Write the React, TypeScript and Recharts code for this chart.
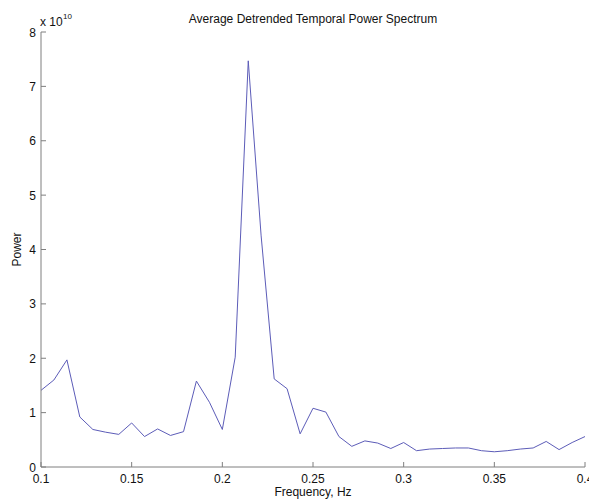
import React from "react";
import { LineChart, Line, XAxis, YAxis } from "recharts";

const frequencies = [
  0.1, 0.1071, 0.1143, 0.1214, 0.1286, 0.1357, 0.1429, 0.15, 0.1571, 0.1643,
  0.1714, 0.1786, 0.1857, 0.1929, 0.2, 0.2071, 0.2143, 0.2214, 0.2286, 0.2357,
  0.2429, 0.25, 0.2571, 0.2643, 0.2714, 0.2786, 0.2857, 0.2929, 0.3, 0.3071,
  0.3143, 0.3214, 0.3286, 0.3357, 0.3429, 0.35, 0.3571, 0.3643, 0.3714, 0.3786,
  0.3857, 0.3929, 0.4,
];

// power in units of 10^10
const power = [
  1.41, 1.6, 1.97, 0.92, 0.69, 0.64, 0.6, 0.81, 0.56, 0.7,
  0.58, 0.65, 1.58, 1.19, 0.69, 2.02, 7.47, 4.25, 1.62, 1.44,
  0.61, 1.08, 1.01, 0.56, 0.38, 0.48, 0.44, 0.34, 0.45, 0.3,
  0.33, 0.34, 0.35, 0.35, 0.3, 0.28, 0.3, 0.33, 0.35, 0.47,
  0.32, 0.45, 0.56,
];

const xTicks = [0.1, 0.15, 0.2, 0.25, 0.3, 0.35, 0.4];
const xTickLabels = ["0.1", "0.15", "0.2", "0.25", "0.3", "0.35", "0.4"];
const yTicks = [0, 1, 2, 3, 4, 5, 6, 7, 8];

const title = "Average Detrended Temporal Power Spectrum";
const xLabel = "Frequency, Hz";
const yLabel = "Power";

const data = frequencies.map((f, i) => ({ f, p: power[i] }));

const FONT = '"Liberation Sans", Arial, Helvetica, sans-serif';
const AXIS = "#7f7f7f";
const TEXT = "#111";
const LINE = "#5c5cb8";
const TL = 5;

const BottomTick = (props: any) => {
  const { x, y, payload } = props;
  const idx = xTicks.indexOf(payload.value);
  return (
    <g>
      <line x1={x} y1={y} x2={x} y2={y - TL} stroke={AXIS} strokeWidth={1} />
      <text x={x} y={y + 16} textAnchor="middle" fontSize={12} fontFamily={FONT} fill={TEXT}>
        {idx >= 0 ? xTickLabels[idx] : String(payload.value)}
      </text>
    </g>
  );
};

const TopTick = (props: any) => {
  const { x, y } = props;
  return <line x1={x} y1={y} x2={x} y2={y + TL} stroke={AXIS} strokeWidth={1} />;
};

const LeftTick = (props: any) => {
  const { x, y, payload } = props;
  return (
    <g>
      <line x1={x} y1={y} x2={x + TL} y2={y} stroke={AXIS} strokeWidth={1} />
      <text x={x - 5} y={y + 4.5} textAnchor="end" fontSize={12} fontFamily={FONT} fill={TEXT}>
        {String(payload.value)}
      </text>
    </g>
  );
};

const RightTick = (props: any) => {
  const { x, y } = props;
  return <line x1={x} y1={y} x2={x - TL} y2={y} stroke={AXIS} strokeWidth={1} />;
};

export default function App() {
  const W = 589;
  const H = 501;
  return (
    <div style={{ position: "absolute", left: 0, top: 0, width: W, height: H, background: "#fff" }}>
      <LineChart
        width={W}
        height={H}
        data={data}
        margin={{ top: 32, right: 4, bottom: 0, left: 0 }}
      >
        <XAxis
          xAxisId="b"
          dataKey="f"
          type="number"
          domain={[0.1, 0.4]}
          ticks={xTicks}
          interval={0}
          allowDataOverflow
          height={34}
          tickSize={0}
          tickMargin={0}
          tickLine={false}
          axisLine={{ stroke: AXIS }}
          tick={<BottomTick />}
        />
        <XAxis
          xAxisId="t"
          orientation="top"
          dataKey="f"
          type="number"
          domain={[0.1, 0.4]}
          ticks={xTicks}
          interval={0}
          allowDataOverflow
          height={0}
          tickSize={0}
          tickMargin={0}
          tickLine={false}
          axisLine={{ stroke: AXIS }}
          tick={<TopTick />}
        />
        <YAxis
          yAxisId="l"
          type="number"
          domain={[0, 8]}
          ticks={yTicks}
          interval={0}
          allowDataOverflow
          width={41}
          tickSize={0}
          tickMargin={0}
          tickLine={false}
          axisLine={{ stroke: AXIS }}
          tick={<LeftTick />}
        />
        <YAxis
          yAxisId="r"
          orientation="right"
          type="number"
          domain={[0, 8]}
          ticks={yTicks}
          interval={0}
          allowDataOverflow
          width={0}
          tickSize={0}
          tickMargin={0}
          tickLine={false}
          axisLine={{ stroke: AXIS }}
          tick={<RightTick />}
        />
        <Line
          xAxisId="b"
          yAxisId="l"
          type="linear"
          dataKey="p"
          stroke={LINE}
          strokeWidth={1}
          dot={false}
          activeDot={false}
          isAnimationActive={false}
        />
      </LineChart>
      <svg
        width={W}
        height={H}
        style={{ position: "absolute", left: 0, top: 0, pointerEvents: "none" }}
      >
        <text x={313} y={23} textAnchor="middle" fontSize={12} fontFamily={FONT} fill={TEXT}>
          {title}
        </text>
        <text x={40} y={26} fontSize={12} fontFamily={FONT} fill={TEXT}>
          x 10
        </text>
        <text x={63} y={18.5} fontSize={8} fontFamily={FONT} fill={TEXT}>
          10
        </text>
        <text x={313} y={496} textAnchor="middle" fontSize={12} fontFamily={FONT} fill={TEXT}>
          {xLabel}
        </text>
        <text
          x={0}
          y={0}
          transform="translate(21,249.5) rotate(-90)"
          textAnchor="middle"
          fontSize={12}
          fontFamily={FONT}
          fill={TEXT}
        >
          {yLabel}
        </text>
      </svg>
    </div>
  );
}
